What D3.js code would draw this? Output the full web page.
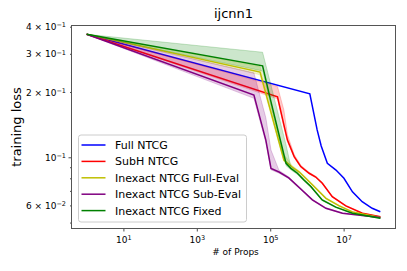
<!DOCTYPE html>
<html><head><meta charset="utf-8">
<script src="https://cdn.jsdelivr.net/npm/d3@7"></script>
<style>
body{margin:0;background:#fff}
svg{display:block}
text{font-family:"DejaVu Sans","Liberation Sans",sans-serif;fill:#000}
</style>
</head><body>
<svg id="chart" width="407" height="271"></svg>
<script>
// ---------------- data ----------------
const chartTitle = "ijcnn1";
const xLabel = "# of Props";
const yLabel = "training loss";
const seriesNames = ["Full NTCG", "SubH NTCG", "Inexact NTCG Full-Eval", "Inexact NTCG Sub-Eval", "Inexact NTCG Fixed"];
const seriesColors = ["#0000ff", "#ff0000", "#bfbf00", "#800080", "#008000"];

// Full NTCG
const fullProps = [1, 1.2e6, 1.9e6, 2.45e6, 3.6e6, 6.2e6, 1.02e7, 1.74e7, 3.2e7, 6.0e7, 1e8];
const fullLoss  = [0.369, 0.196, 0.1337, 0.1127, 0.0938, 0.0873, 0.0800, 0.0693, 0.0624, 0.0582, 0.0561];

// SubH NTCG
const subhProps = [1, 1.58e5, 2.36e5, 2.95e5, 4.5e5, 6.8e5, 1.15e6, 1.74e6, 2.63e6, 4.9e6, 1.15e7, 3.24e7, 1e8];
const subhLoss  = [0.369, 0.190, 0.141, 0.120, 0.1007, 0.0906, 0.0844, 0.0811, 0.0759, 0.0658, 0.0597, 0.0552, 0.0532];
const subhHi    = [0.369, 0.212, 0.165, 0.127, 0.103, 0.092, 0.0852, 0.0818, 0.0765, 0.0662, 0.0600, 0.0554, 0.0533];
const subhLo    = [0.369, 0.186, 0.138, 0.118, 0.0995, 0.0898, 0.0838, 0.0806, 0.0754, 0.0655, 0.0595, 0.0550, 0.0531];

// Inexact NTCG Full-Eval
const fullEvalProps = [1, 5.3e4, 2.36e5, 4.0e5, 6.2e5, 1.28e6, 3.3e6, 7.6e6, 1.74e7, 1e8];
const fullEvalLoss  = [0.369, 0.247, 0.0972, 0.0902, 0.0855, 0.0759, 0.0647, 0.0597, 0.0560, 0.0528];
const fullEvalHi    = [0.369, 0.262, 0.103, 0.0915, 0.0865, 0.0766, 0.0651, 0.0600, 0.0562, 0.0529];
const fullEvalLo    = [0.369, 0.240, 0.0955, 0.0893, 0.0848, 0.0753, 0.0643, 0.0594, 0.0558, 0.0527];

// Inexact NTCG Sub-Eval
const subEvalProps = [1, 3.6e4, 7.6e4, 1.05e5, 1.74e5, 3.2e5, 6.8e5, 1.41e6, 3.3e6, 9.3e6, 1e8];
const subEvalLoss  = [0.369, 0.1936, 0.120, 0.0889, 0.0855, 0.0804, 0.0714, 0.0636, 0.0582, 0.0552, 0.0527];
const subEvalHi    = [0.369, 0.245, 0.152, 0.108, 0.0870, 0.0812, 0.0720, 0.0640, 0.0585, 0.0554, 0.0528];
const subEvalLo    = [0.369, 0.187, 0.117, 0.0875, 0.0845, 0.0797, 0.0708, 0.0632, 0.0579, 0.0550, 0.0526];

// Inexact NTCG Fixed
const fixedProps = [1, 6.2e4, 1.05e5, 2.7e5, 3.65e5, 5.5e5, 8.3e5, 1.28e6, 2.6e6, 6.1e6, 1.74e7, 1e8];
const fixedLoss  = [0.369, 0.264, 0.180, 0.0938, 0.0889, 0.0844, 0.0785, 0.0733, 0.0636, 0.0589, 0.0552, 0.0523];
const fixedHi    = [0.369, 0.305, 0.215, 0.114, 0.0905, 0.0855, 0.0795, 0.0740, 0.0641, 0.0592, 0.0554, 0.0524];
const fixedLo    = [0.369, 0.250, 0.172, 0.0915, 0.0875, 0.0834, 0.0776, 0.0726, 0.0631, 0.0586, 0.0550, 0.0522];

// ticks
const xTickValues = [1e1, 1e3, 1e5, 1e7];
const xTickLabels = ["10^1", "10^3", "10^5", "10^7"];
const yTickValues = [0.05, 0.06, 0.07, 0.08, 0.09, 0.1, 0.2, 0.3, 0.4];
const yTickLabels = ["", "6 × 10^−2", "", "", "", "10^−1", "2 × 10^−1", "3 × 10^−1", "4 × 10^−1"];
const yMajorTicks = [0.1];

// ---------------- chart ----------------
const svg = d3.select("#chart");
const plot = {left: 72, right: 395, top: 26, bottom: 228};

const x = d3.scaleLog().domain([0.398, 2.51e8]).range([plot.left, plot.right]);
const y = d3.scaleLog().domain([0.0472, 0.403]).range([plot.bottom, plot.top]);

const series = [
  {props: fullProps, loss: fullLoss, lo: null, hi: null},
  {props: subhProps, loss: subhLoss, lo: subhLo, hi: subhHi},
  {props: fullEvalProps, loss: fullEvalLoss, lo: fullEvalLo, hi: fullEvalHi},
  {props: subEvalProps, loss: subEvalLoss, lo: subEvalLo, hi: subEvalHi},
  {props: fixedProps, loss: fixedLoss, lo: fixedLo, hi: fixedHi}
].map((s, i) => ({...s, name: seriesNames[i], color: seriesColors[i]}));

const clip = svg.append("defs").append("clipPath").attr("id", "clip")
  .append("rect").attr("x", plot.left).attr("y", plot.top)
  .attr("width", plot.right - plot.left).attr("height", plot.bottom - plot.top);

const g = svg.append("g").attr("clip-path", "url(#clip)");

const line = d3.line().x(d => x(d[0])).y(d => y(d[1]));
const area = d3.area().x(d => x(d[0])).y0(d => y(d[1])).y1(d => y(d[2]));

series.forEach(s => {
  if (s.lo) {
    const pts = s.props.map((p, i) => [p, s.lo[i], s.hi[i]]);
    g.append("path").attr("d", area(pts))
      .attr("fill", s.color).attr("fill-opacity", 0.2)
      .attr("stroke", s.color).attr("stroke-opacity", 0.2).attr("stroke-width", 1);
  }
  const pts = s.props.map((p, i) => [p, s.loss[i]]);
  g.append("path").attr("d", line(pts)).attr("fill", "none")
    .attr("stroke", s.color).attr("stroke-width", 1.5)
    .attr("stroke-linejoin", "miter");
});

// helper to write "a^b" labels with superscript
function writeSup(textSel, label, supSize) {
  const parts = label.split("^");
  textSel.append("tspan").text(parts[0]);
  if (parts.length > 1) {
    textSel.append("tspan").attr("dy", "-0.45em").attr("font-size", supSize).text(parts[1]);
  }
}

// x axis
const xAxis = d3.axisBottom(x).tickValues(xTickValues).tickFormat("").tickSize(3.5).tickSizeOuter(0);
const xg = svg.append("g").attr("transform", `translate(0,${plot.bottom})`).call(xAxis);
xg.select(".domain").remove();
xg.selectAll(".tick line").attr("stroke", "#222").attr("stroke-width", 0.8);
xg.selectAll(".tick").each(function(d, i) {
  const t = d3.select(this).append("text").attr("y", 14.5).attr("text-anchor", "middle")
    .attr("font-size", 9).attr("fill", "#000");
  writeSup(t, xTickLabels[i], 6.5);
});

// y axis
const yAxis = d3.axisLeft(y).tickValues(yTickValues).tickFormat("").tickSize(3.5).tickSizeOuter(0);
const yg = svg.append("g").attr("transform", `translate(${plot.left},0)`).call(yAxis);
yg.select(".domain").remove();
yg.selectAll(".tick line").attr("stroke", "#222").attr("stroke-width", 0.8)
  .attr("x2", d => yMajorTicks.includes(d) ? -3.5 : -2);
yg.selectAll(".tick").each(function(d, i) {
  if (!yTickLabels[i]) return;
  const t = d3.select(this).append("text").attr("x", -6).attr("dy", "0.35em")
    .attr("text-anchor", "end").attr("font-size", 9).attr("fill", "#000");
  writeSup(t, yTickLabels[i], 6.5);
});

// spines
svg.append("rect").attr("x", plot.left - 0.5).attr("y", plot.top - 0.5)
  .attr("width", plot.right - plot.left + 1).attr("height", plot.bottom - plot.top + 1)
  .attr("fill", "none").attr("stroke", "#555").attr("stroke-width", 1);

// title and labels
svg.append("text").attr("x", (plot.left + plot.right) / 2).attr("y", 18)
  .attr("text-anchor", "middle").attr("font-size", 13).text(chartTitle);
svg.append("text").attr("x", (plot.left + plot.right) / 2 + 2).attr("y", 255)
  .attr("text-anchor", "middle").attr("font-size", 9).text(xLabel);
svg.append("text").attr("transform", `translate(21,${(plot.top + plot.bottom) / 2}) rotate(-90)`)
  .attr("text-anchor", "middle").attr("font-size", 13).text(yLabel);

// legend
const lg = svg.append("g").attr("transform", "translate(78.5,135)");
lg.append("rect").attr("width", 168).attr("height", 87).attr("rx", 2.5)
  .attr("fill", "#fff").attr("fill-opacity", 0.8).attr("stroke", "#ccc").attr("stroke-width", 1);
series.forEach((s, i) => {
  const yy = 10 + i * 16.4;
  lg.append("line").attr("x1", 3).attr("x2", 27).attr("y1", yy).attr("y2", yy)
    .attr("stroke", s.color).attr("stroke-width", 1.5);
  lg.append("text").attr("x", 36.5).attr("y", yy).attr("dy", "0.36em")
    .attr("font-size", 11).text(s.name);
});
</script>
</body></html>
